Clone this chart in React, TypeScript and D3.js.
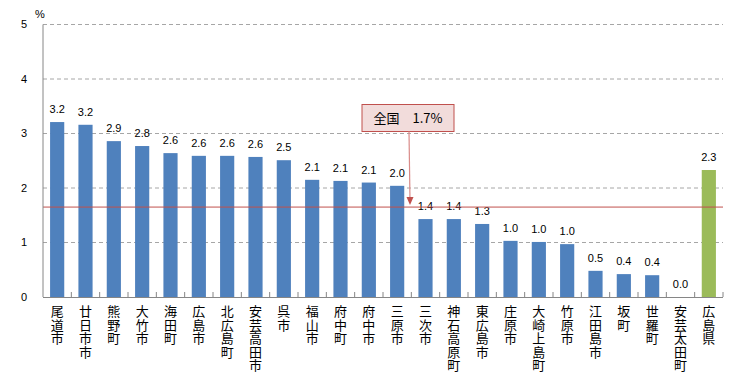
import React from "react";
import * as d3 from "d3";

const categories = ["尾道市","廿日市市","熊野町","大竹市","海田町","広島市","北広島町","安芸高田市","呉市","福山市","府中町","府中市","三原市","三次市","神石高原町","東広島市","庄原市","大崎上島町","竹原市","江田島市","坂町","世羅町","安芸太田町","広島県"];
const values = [3.21,3.16,2.86,2.77,2.64,2.59,2.59,2.57,2.51,2.15,2.13,2.10,2.04,1.43,1.43,1.34,1.03,1.01,0.97,0.48,0.42,0.40,0.0,2.33];
const labels = ["3.2","3.2","2.9","2.8","2.6","2.6","2.6","2.6","2.5","2.1","2.1","2.1","2.0","1.4","1.4","1.3","1.0","1.0","1.0","0.5","0.4","0.4","0.0","2.3"];
const yTicks = [0,1,2,3,4,5];
const nationalValue = 1.65;
const nationalLabel = "全国　1.7%";

export default function App() {
  const W = 756, H = 379;
  const left = 43, right = 723, top = 24.5, bottom = 297;
  const x = d3.scaleBand<string>().domain(categories).range([left, right]).paddingInner(0.5).paddingOuter(0.25);
  const xb = d3.scaleBand<string>().domain(categories).range([left, right]);
  const y = d3.scaleLinear().domain([0, 5]).range([bottom, top]);
  const num = "'Liberation Sans', Arial, sans-serif";
  const jp = "'Noto Sans CJK JP', sans-serif";
  const calloutX = 408;
  return (
    <svg width={W} height={H} style={{ position: "absolute", left: 0, top: 0 }}>
      <rect width={W} height={H} fill="#fff" />
      {yTicks.filter(t => t > 0).map(t => (
        <line key={t} x1={left} x2={right} y1={y(t)} y2={y(t)} stroke="#A6A6A6" strokeDasharray="4,3" strokeWidth={1} />
      ))}
      {yTicks.map(t => (
        <text key={t} x={27} y={y(t)} dy="0.35em" textAnchor="end" fontFamily={num} fontSize={11} fill="#000">{t}</text>
      ))}
      <text x={40} y={18} textAnchor="middle" fontFamily={num} fontSize={11}>%</text>
      {categories.map((c, i) => (
        <rect key={c} x={x(c)} y={y(values[i])} width={x.bandwidth()} height={bottom - y(values[i])} fill={i === categories.length - 1 ? "#9BBB59" : "#4F81BD"} />
      ))}
      {categories.map((c, i) => (
        <text key={c} x={x(c)! + x.bandwidth() / 2} y={y(values[i]) - 9} textAnchor="middle" fontFamily={num} fontSize={11} fill="#000">{labels[i]}</text>
      ))}
      <line x1={left} x2={right} y1={y(nationalValue)} y2={y(nationalValue)} stroke="#C0504D" strokeWidth={1} />
      <line x1={left} x2={left} y1={top} y2={bottom} stroke="#868686" />
      <line x1={left} x2={right} y1={bottom + 0.5} y2={bottom + 0.5} stroke="#868686" />
      {categories.map((c) => (
        <line key={c} x1={xb(c)! + xb.bandwidth()} x2={xb(c)! + xb.bandwidth()} y1={bottom} y2={bottom - 5} stroke="#868686" />
      ))}
      {categories.map((c) => (
        <text key={c} fontFamily={jp} fontSize={13} textAnchor="middle" fill="#000">
          {Array.from(c).map((ch, j) => (
            <tspan key={j} x={x(c)! + x.bandwidth() / 2} y={316 + j * 13.5}>{ch}</tspan>
          ))}
        </text>
      ))}
      <rect x={362} y={104.5} width={92} height={27} fill="#F2DCDB" stroke="#C0504D" strokeWidth={1} />
      <text x={calloutX} y={118} dy="0.35em" textAnchor="middle" fontFamily={jp} fontSize={13}>{nationalLabel}</text>
      <line x1={calloutX + 1} x2={calloutX + 2} y1={131.5} y2={y(nationalValue) - 6} stroke="#D98B89" strokeWidth={1.2} />
      <path d={`M${calloutX - 1.5},${y(nationalValue) - 10} L${calloutX + 2},${y(nationalValue) - 2} L${calloutX + 5.5},${y(nationalValue) - 10} Z`} fill="#C0504D" />
    </svg>
  );
}
